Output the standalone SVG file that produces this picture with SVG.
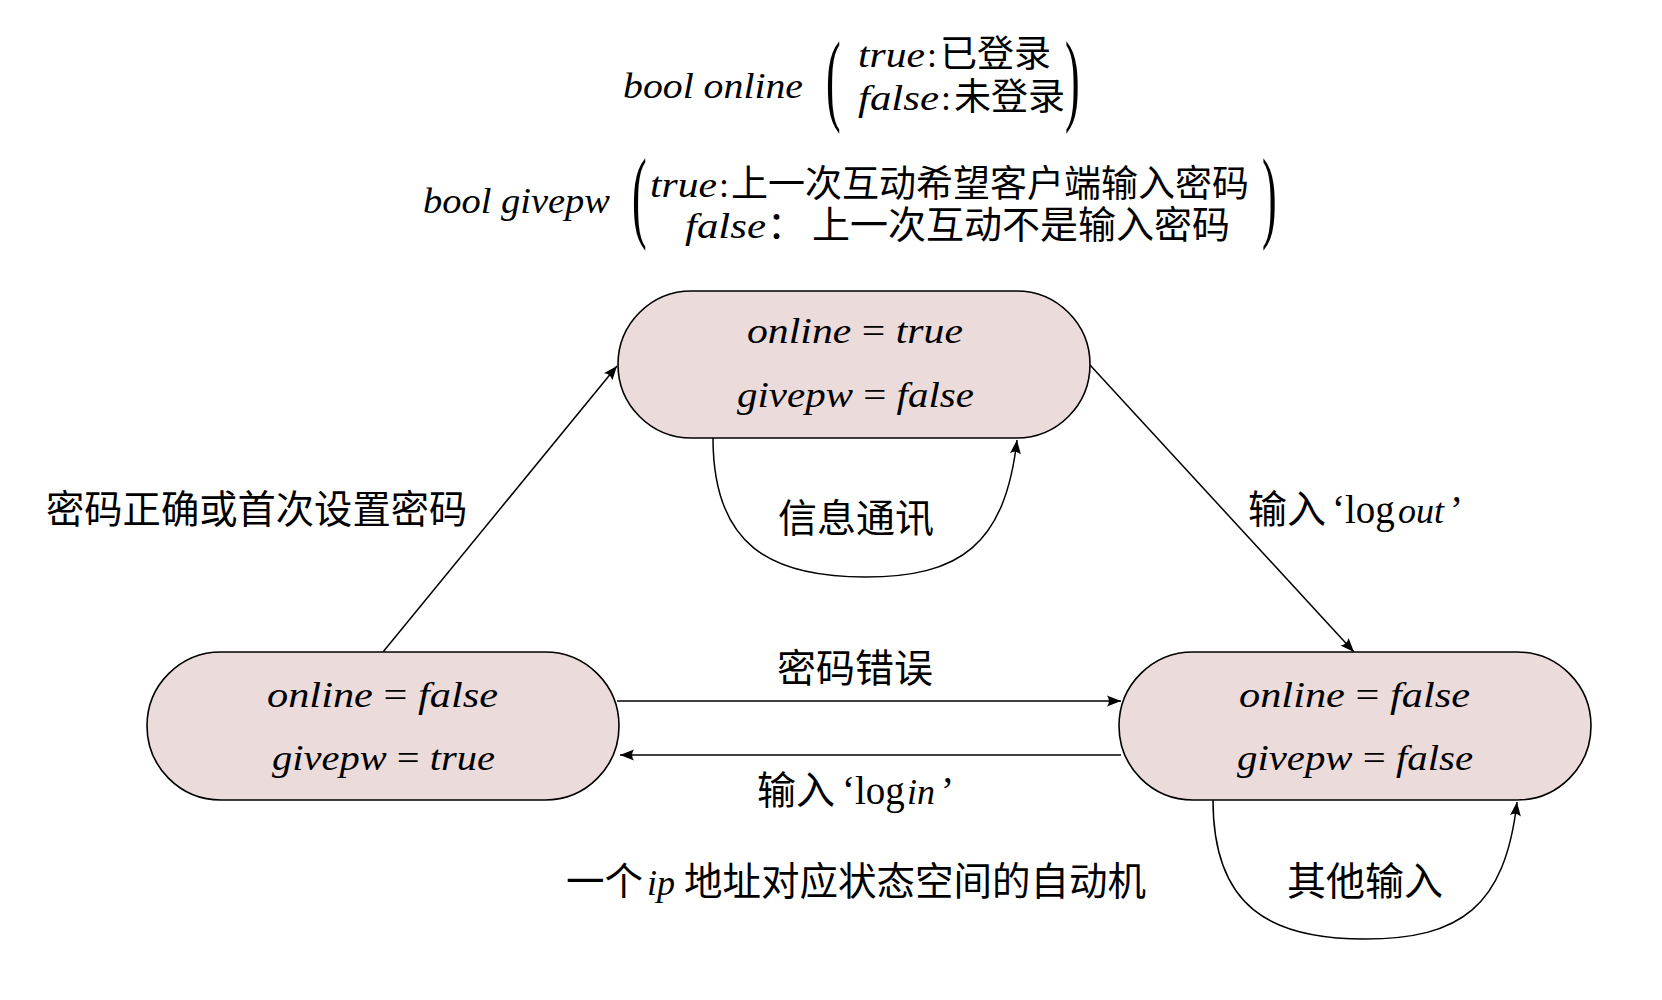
<svg xmlns="http://www.w3.org/2000/svg" width="1662" height="1000" viewBox="0 0 1662 1000">
<defs>
<style>
text{fill:#000;}
.mi{font-family:"Liberation Serif","Times New Roman",serif;font-style:italic;}
.rm{font-family:"Liberation Serif","Times New Roman",serif;font-style:normal;}
.cjk{font-family:"Noto Sans CJK SC",sans-serif;font-style:normal;}
.node rect{fill:#ECDBDB;stroke:#000;stroke-width:1.6;}
.conn path{fill:none;stroke:#000;stroke-width:1.5;marker-end:url(#arr);}
.paren{font-family:"Liberation Serif","Times New Roman",serif;font-size:44px;}
</style>
<marker id="arr" markerUnits="userSpaceOnUse" viewBox="-15 -7 16 14" refX="0" refY="0" markerWidth="16" markerHeight="14" orient="auto">
<path d="M0,0 L-14,-5.5 Q-10,0 -14,5.5 Z" fill="#000"/>
</marker>
</defs>
<rect width="1662" height="1000" fill="#fff"/>

<g id="legend">
<text class="mi" x="623" y="98" font-size="36" textLength="180" lengthAdjust="spacingAndGlyphs">bool online</text>
<text class="paren" transform="scale(1,2.32)" x="826" y="48.2">(</text>
<text class="mi" x="858" y="67" font-size="36" textLength="67" lengthAdjust="spacingAndGlyphs">true</text>
<text class="rm" x="927" y="67" font-size="36">:</text>
<text class="cjk" x="940" y="67" font-size="37">已登录</text>
<text class="mi" x="858" y="110" font-size="36" textLength="81" lengthAdjust="spacingAndGlyphs">false</text>
<text class="rm" x="941" y="110" font-size="36">:</text>
<text class="cjk" x="954" y="110" font-size="37">未登录</text>
<text class="paren" transform="scale(1,2.32)" x="1065" y="48.2">)</text>

<text class="mi" x="423" y="213" font-size="36" textLength="187" lengthAdjust="spacingAndGlyphs">bool givepw</text>
<text class="paren" transform="scale(1,2.32)" x="632" y="98.7">(</text>
<text class="mi" x="650" y="197" font-size="36" textLength="67" lengthAdjust="spacingAndGlyphs">true</text>
<text class="rm" x="719" y="197" font-size="36">:</text>
<text class="cjk" x="731" y="197" font-size="37">上一次互动希望客户端输入密码</text>
<text class="mi" x="685" y="238" font-size="36" textLength="81" lengthAdjust="spacingAndGlyphs">false</text>
<text class="cjk" x="767" y="238" font-size="38">：</text>
<text class="cjk" x="812" y="238" font-size="38">上一次互动不是输入密码</text>
<text class="paren" transform="scale(1,2.32)" x="1262" y="98.7">)</text>
</g>

<g id="connectors" class="conn">
<path id="e-login-ok" d="M383,652 L617,366"/>
<path id="e-logout" d="M1090,365 L1354,652"/>
<path id="e-pw-wrong" d="M617,701 L1121,701"/>
<path id="e-login" d="M1121,755 L620,755"/>
<path id="e-msg" d="M713,438 C713,545 770,577 865,577 C960,577 1005,545 1017,440"/>
<path id="e-other" d="M1213,800 C1213,907 1270,939 1365,939 C1460,939 1505,907 1517,802"/>
</g>

<g id="node-top" class="node">
<rect x="618" y="291" width="472" height="147" rx="73.5"/>
<text class="mi" x="747" y="343" font-size="36" textLength="216" lengthAdjust="spacingAndGlyphs">online<tspan class="rm"> = </tspan>true</text>
<text class="mi" x="737" y="407" font-size="36" textLength="237" lengthAdjust="spacingAndGlyphs">givepw<tspan class="rm"> = </tspan>false</text>
</g>

<g id="node-left" class="node">
<rect x="147" y="652" width="472" height="148" rx="74"/>
<text class="mi" x="267" y="707" font-size="36" textLength="231" lengthAdjust="spacingAndGlyphs">online<tspan class="rm"> = </tspan>false</text>
<text class="mi" x="272" y="770" font-size="36" textLength="223" lengthAdjust="spacingAndGlyphs">givepw<tspan class="rm"> = </tspan>true</text>
</g>

<g id="node-right" class="node">
<rect x="1119" y="652" width="472" height="148" rx="74"/>
<text class="mi" x="1239" y="707" font-size="36" textLength="231" lengthAdjust="spacingAndGlyphs">online<tspan class="rm"> = </tspan>false</text>
<text class="mi" x="1237" y="770" font-size="36" textLength="236" lengthAdjust="spacingAndGlyphs">givepw<tspan class="rm"> = </tspan>false</text>
</g>

<g id="labels">
<text class="cjk" x="46" y="523" font-size="38.3">密码正确或首次设置密码</text>
<text y="523"><tspan class="cjk" x="1248" font-size="39">输入</tspan><tspan class="rm" x="1332" font-size="39">‘log</tspan><tspan class="mi" x="1398" font-size="36">out</tspan><tspan class="rm" x="1450" font-size="39">’</tspan></text>
<text class="cjk" x="778" y="532" font-size="39">信息通讯</text>
<text class="cjk" x="777" y="682" font-size="39">密码错误</text>
<text y="804"><tspan class="cjk" x="757" font-size="39">输入</tspan><tspan class="rm" x="842" font-size="39">‘log</tspan><tspan class="mi" x="907" font-size="36">in</tspan><tspan class="rm" x="941" font-size="39">’</tspan></text>
<text class="cjk" x="1287" y="895" font-size="39">其他输入</text>
<text y="895"><tspan class="cjk" x="566" font-size="38.5">一个</tspan><tspan class="mi" x="647" font-size="36">ip</tspan><tspan class="cjk" x="684" font-size="38.5">地址对应状态空间的自动机</tspan></text>
</g>
</svg>
